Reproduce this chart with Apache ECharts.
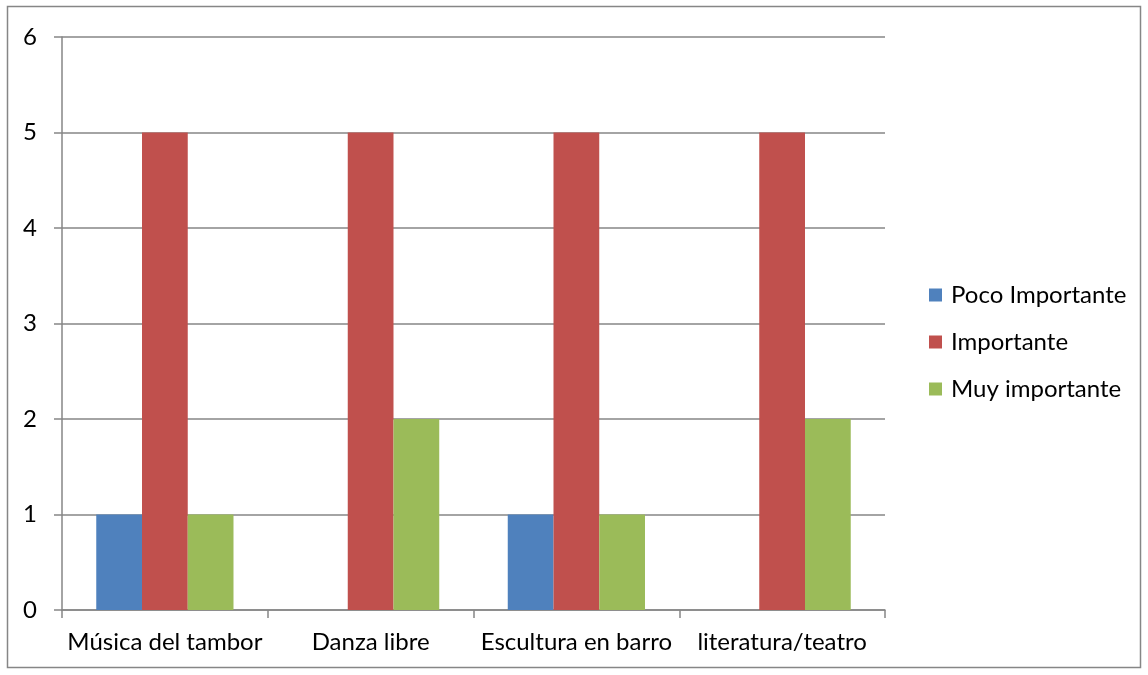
<!DOCTYPE html>
<html>
<head>
<meta charset="utf-8">
<script src="https://cdn.jsdelivr.net/npm/echarts@6/dist/echarts.min.js"></script>
<style>
  html, body { margin: 0; padding: 0; background: #fff; }
  #root { width: 1148px; height: 675px; }
</style>
</head>
<body>
<div id="root"></div>
<script>
let categories = ['Música del tambor', 'Danza libre', 'Escultura en barro', 'literatura/teatro'];
let pocoImportante = [1, 0, 1, 0];
let importante = [5, 5, 5, 5];
let muyImportante = [1, 2, 1, 2];
let yTicks = [0, 1, 2, 3, 4, 5, 6];

let root = document.getElementById('root');
let myCharts = echarts.init(root);
let font = 'Lato';
let fs = 24;
let axisGray = '#868686';

let option = {
    animation: false,
    textStyle: { fontFamily: font },
    graphic: [{
        type: 'rect',
        shape: { x: 7.5, y: 6.5, width: 1133, height: 661 },
        style: { fill: 'none', stroke: '#868686', lineWidth: 1.5 },
        silent: true
    }],
    grid: { left: 62, right: 263, top: 37, bottom: 65 },
    legend: {
        orient: 'vertical',
        left: 924,
        top: 278,
        itemWidth: 13,
        itemHeight: 13,
        itemGap: 23,
        icon: 'rect',
        textStyle: { fontFamily: font, fontSize: fs, lineHeight: 24, color: '#000', padding: [0, 0, 0, 4] },
        data: ['Poco Importante', 'Importante', 'Muy importante']
    },
    xAxis: {
        type: 'category',
        data: categories,
        axisLine: { lineStyle: { color: axisGray, width: 1.5 } },
        axisTick: { show: true, length: 8, alignWithLabel: false, lineStyle: { color: axisGray, width: 1.5 } },
        axisLabel: { fontFamily: font, fontSize: fs, color: '#000', margin: 20, interval: 0 }
    },
    yAxis: {
        type: 'value',
        min: yTicks[0],
        max: yTicks[yTicks.length - 1],
        interval: 1,
        axisLine: { show: true, lineStyle: { color: axisGray, width: 1.5 } },
        axisTick: { show: true, length: 8, lineStyle: { color: axisGray, width: 1.5 } },
        splitLine: { lineStyle: { color: axisGray, width: 1.5 } },
        axisLabel: { fontFamily: font, fontSize: fs, color: '#000', margin: 25 }
    },
    series: [
        {
            name: 'Poco Importante',
            type: 'bar',
            barGap: 0,
            barCategoryGap: '33.3%',
            itemStyle: { color: '#4F81BD' },
            data: pocoImportante
        },
        {
            name: 'Importante',
            type: 'bar',
            itemStyle: { color: '#C0504D' },
            data: importante
        },
        {
            name: 'Muy importante',
            type: 'bar',
            itemStyle: { color: '#9BBB59' },
            data: muyImportante
        }
    ]
};
myCharts.setOption(option);
</script>
</body>
</html>
